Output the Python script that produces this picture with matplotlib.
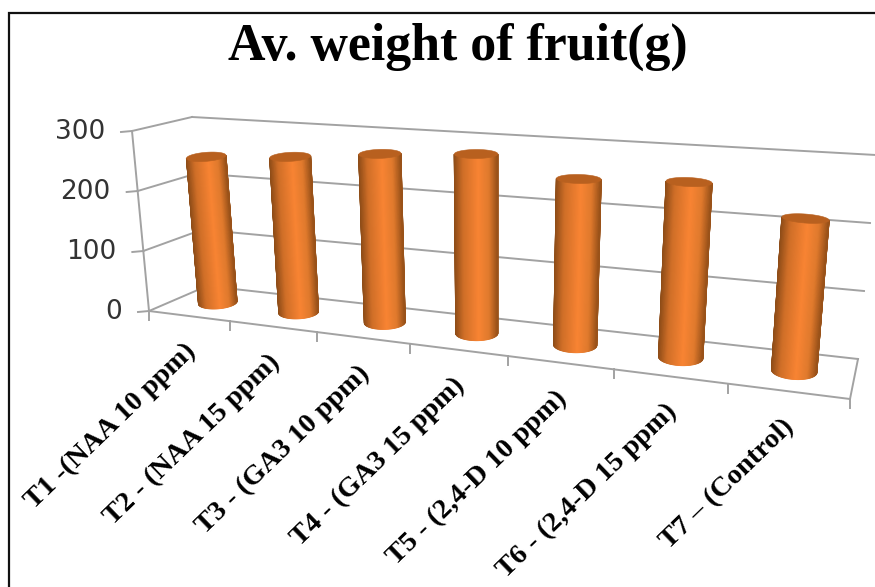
import numpy as np
import matplotlib
matplotlib.use("Agg")
import matplotlib.pyplot as plt
from matplotlib.colors import LinearSegmentedColormap

categories = ["T1 -(NAA 10 ppm)", "T2 - (NAA 15 ppm)", "T3 - (GA3 10 ppm)", "T4 - (GA3 15 ppm)",
              "T5 - (2,4-D 10 ppm)", "T6 - (2,4-D 15 ppm)", "T7 – (Control)"]
values = [248, 258, 273, 283, 255, 262, 221]
y_ticks = [0, 100, 200, 300]

# box corners in pixels: (front/back, left/right, bottom/top)
FL0, FL3 = np.array([149, 311.]), np.array([132, 131.])
FR0, FR3 = np.array([850, 399.]), np.array([869, 182.])
BL0, BL3 = np.array([207, 286.]), np.array([192, 117.])
BR0, BR3 = np.array([858, 359.]), np.array([876, 155.])
persp = 1.268
bar_depth = 0.52
n = len(categories)
GRID = "#a2a2a2"


def project(u, h, d):
    # u category position, h value, d depth 0 front 1 back
    s = u / n
    t = s / (s + (1 - s) * persp)
    k = h / 300
    front0 = FL0 + (FR0 - FL0) * t
    front3 = FL3 + (FR3 - FL3) * t
    back0 = BL0 + (BR0 - BL0) * t
    back3 = BL3 + (BR3 - BL3) * t
    p0 = front0 + (back0 - front0) * d
    p3 = front3 + (back3 - front3) * d
    return p0 + (p3 - p0) * k


fig = plt.figure(figsize=(8.75, 5.87), dpi=100)
ax = fig.add_axes([0, 0, 1, 1])
ax.set_xlim(0, 875)
ax.set_ylim(587, 0)
ax.axis("off")

# frame
ax.plot([9, 9, 875], [587, 13, 13], color="#111111", lw=1.6, solid_joinstyle="miter")

ax.text(458, 47, "Av. weight of fruit(g)", family="Liberation Serif", weight="bold",
        fontsize=37.4, ha="center", va="center", color="black")


def seg(a, b):
    ax.plot([a[0], b[0]], [a[1], b[1]], color=GRID, lw=1.4, zorder=1)


# walls and floor
for h in y_ticks:
    seg(project(0, h, 0), project(0, h, 1))
    seg(project(0, h, 1), project(n, h, 1))
    a = project(0, h, 0)
    seg(a, a + np.array([-11, 1]))
    ax.text(a[0] - 27, a[1] + 1, str(h), family="DejaVu Sans", fontsize=19, ha="right",
            va="center", color="#333333")
seg(project(0, 0, 0), project(0, 300, 0))
seg(project(0, 0, 0), project(n, 0, 0))
seg(project(n, 0, 0), project(n, 0, 1))
for i in range(n + 1):
    a = project(i, 0, 0)
    seg(a, a + np.array([0, 9]))

# tick labels
for i, lab in enumerate(categories):
    a = project(i + 0.5, 0, 0)
    ax.text(a[0] + 3, a[1] + 32, lab, family="Liberation Serif", weight="bold", fontsize=20.4,
            rotation=44, rotation_mode="anchor", ha="right", va="center", color="black")

# cylinders
shade = LinearSegmentedColormap.from_list("cyl", [(0, "#8f4d18"), (0.2, "#d06f28"), (0.55, "#f98433"),
                                                  (0.8, "#e07a2d"), (1, "#9a5219")])
for i, v in enumerate(values):
    base = project(i + 0.5, 0, bar_depth)
    top = project(i + 0.5, v, bar_depth)
    axis_dir = (top - base) / np.linalg.norm(top - base)
    major = np.array([-axis_dir[1], axis_dir[0]])
    if major[0] < 0:
        major = -major
    minor = -axis_dir
    s = (i + 0.5) / n
    a_top = 19.5 + 4.5 * s
    a_base = 19 + 4 * s
    b_top = 4.5
    b_base = 6 + 2.5 * s
    th = np.linspace(np.pi, 0, 61)
    upper = np.array([top + a_top * np.cos(q) * major + b_top * np.sin(q) * minor for q in th])
    lower = np.array([base + a_base * np.cos(q) * major + b_base * np.sin(q) * minor for q in th])
    X = np.array([upper[:, 0], lower[:, 0]])
    Y = np.array([upper[:, 1], lower[:, 1]])
    C = np.array([(np.cos(th) + 1) / 2, (np.cos(th) + 1) / 2])
    ax.pcolormesh(X, Y, C, shading="gouraud", cmap=shade, vmin=0, vmax=1, zorder=3 + i)
    th2 = np.linspace(0, 2 * np.pi, 80)
    lid = np.array([top + a_top * np.cos(q) * major + b_top * np.sin(q) * minor for q in th2])
    ax.fill(lid[:, 0], lid[:, 1], color="#b8601f", lw=0.4, zorder=3 + i)

fig.savefig("out.png", dpi=100)
